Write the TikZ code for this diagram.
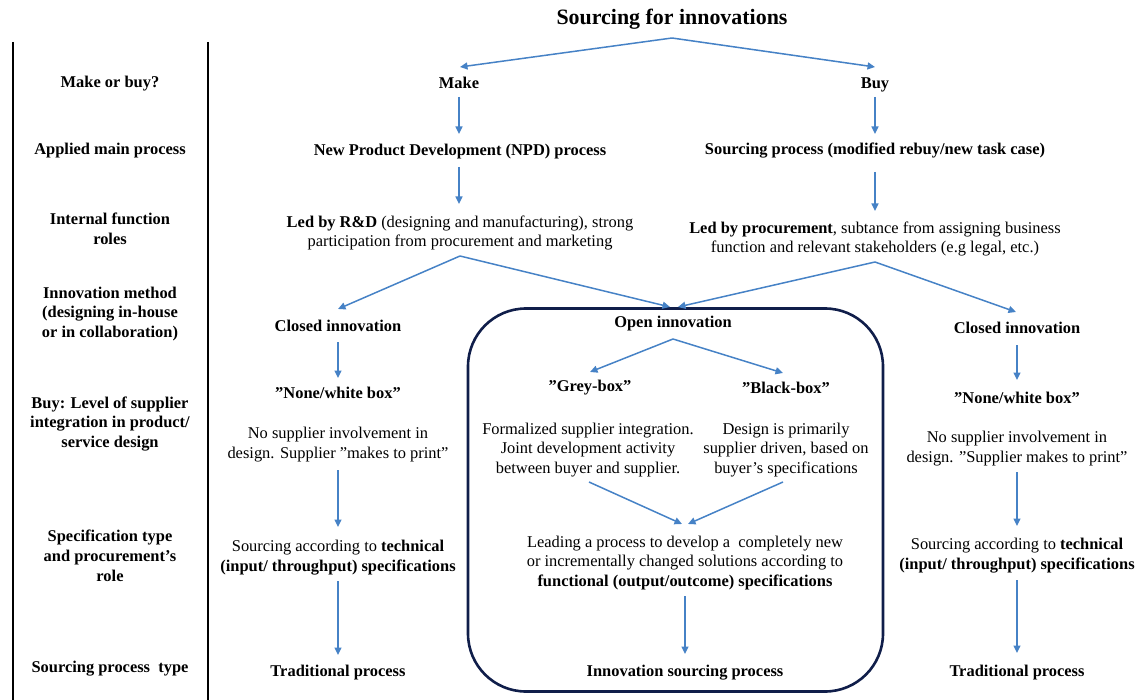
\documentclass[tikz,border=0pt]{standalone}
\usepackage{fontspec}
\setmainfont{Liberation Serif}
\usetikzlibrary{arrows.meta,calc}
\definecolor{flowblue}{RGB}{70,130,198}
\definecolor{framenavy}{RGB}{16,30,74}

\begin{document}
\begin{tikzpicture}[x=1bp,y=-1bp,
  every node/.style={inner sep=0pt, outer sep=0pt, align=center,
    font=\fontsize{16.5}{20}\selectfont},
  hd/.style={font=\fontsize{16.5}{20}\selectfont\bfseries},
  titlefont/.style={font=\fontsize{22}{26}\selectfont\bfseries},
  flow/.style={draw=flowblue, line width=1.5bp,
    -{Triangle[length=7.5bp,width=7bp]}},
  openframe/.style={draw=framenavy, line width=2.6bp, rounded corners=58bp,
    minimum width=415bp, minimum height=383bp},
  rule/.style={draw=black, line width=1.2bp}]

\useasboundingbox (0,0) rectangle (1147,700);

% row headings column
\draw[rule] (13,42) -- (13,700);
\draw[rule] (208,42) -- (208,700);
\node[hd] (h1) at (110,84)  {Make or buy?};
\node[hd] (h2) at (110,151) {Applied main process};
\node[hd] (h3) at (110,229) {Internal function\\roles};
\node[hd] (h4) at (110,314) {Innovation method\\(designing in-house\\or in collaboration)};
\node[hd] (h5) at (110,424) {Buy: Level of supplier\\integration in product/\\service design};
\node[hd] (h6) at (110,556) {Specification type\\and procurement’s\\role};
\node[hd] (h7) at (110,669) {Sourcing process\ \ type};

% open-innovation frame
\node[openframe] (frame) at (675.5,500) {};

% main flow
\node[titlefont] (title) at (672,19) {Sourcing for innovations};
\node[hd] (make) at (459,83) {Make};
\node[hd] (buy)  at (875,85) {Buy};
\node[hd] (npd)  at (460,152) {New Product Development (NPD) process};
\node[hd] (sp)   at (875,151) {Sourcing process (modified rebuy/new task case)};
\node (rnd)  at (460,233) {\textbf{Led by R\&D} (designing and manufacturing), strong\\participation from procurement and marketing};
\node (proc) at (875,239) {\textbf{Led by procurement}, subtance from assigning business\\function and relevant stakeholders (e.g legal, etc.)};

\node[hd] (closedL) at (338,326) {Closed innovation};
\node[hd] (open)    at (673,324) {Open innovation};
\node[hd] (closedR) at (1017,328) {Closed innovation};

\node[hd] (noneL) at (338,393)  {”None/white box”};
\node[hd] (grey)  at (590,388)  {”Grey-box”};
\node[hd] (black) at (786,388)  {”Black-box”};
\node[hd] (noneR) at (1017,398) {”None/white box”};

\node (descL) at (338,445) {No supplier involvement in\\design. Supplier "makes to print"};
\node (greyD) at (588,450) {Formalized supplier integration.\\Joint development activity\\between buyer and supplier.};
\node (blackD) at (786,450) {Design is primarily\\supplier driven, based on\\buyer’s specifications};
\node (descR) at (1017,449) {No supplier involvement in\\design. "Supplier makes to print"};

\node (specL) at (338,558) {Sourcing according to \textbf{technical}\\\textbf{(input/ throughput) specifications}};
\node (lead)  at (685,563) {Leading a process to develop a\ \ completely new\\or incrementally changed solutions according to\\\textbf{functional (output/outcome) specifications}};
\node (specR) at (1017,556) {Sourcing according to \textbf{technical}\\\textbf{(input/ throughput) specifications}};

\node[hd] (tradL) at (338,673)  {Traditional process};
\node[hd] (innov) at (685,673)  {Innovation sourcing process};
\node[hd] (tradR) at (1017,673) {Traditional process};

% split points
\coordinate (t1) at ($(title)+(0,19)$);
\coordinate (r1) at ($(rnd)+(0,23)$);
\coordinate (p1) at ($(proc)+(0,23)$);
\coordinate (o1) at ($(open)+(0,15)$);

% connectors
\draw[flow] (t1) -- ($(make)+(1,-16)$);
\draw[flow] (t1) -- ($(buy)+(0,-18)$);
\draw[flow] ($(make)+(0,14)$) -- ($(npd)+(-1,-18)$);
\draw[flow] ($(buy)+(0,12)$) -- ($(sp)+(0,-17)$);
\draw[flow] ($(npd)+(-1,15)$) -- ($(rnd)+(-1,-29)$);
\draw[flow] ($(sp)+(0,21)$) -- ($(proc)+(0,-28)$);

\draw[flow] (r1) -- ($(closedL)+(0,-17)$);
\draw[flow] (r1) -- ($(open)+(-3,-17)$);
\draw[flow] (p1) -- ($(open)+(5,-17)$);
\draw[flow] (p1) -- ($(closedR)+(-1,-16)$);

\draw[flow] ($(closedL)+(0,16)$) -- ($(noneL)+(0,-15)$);
\draw[flow] ($(descL)+(0,25)$) -- ($(specL)+(0,-31)$);
\draw[flow] ($(specL)+(0,23)$) -- ($(tradL)+(0,-18)$);

\draw[flow] ($(closedR)+(0,17)$) -- ($(noneR)+(0,-18)$);
\draw[flow] ($(descR)+(0,23)$) -- ($(specR)+(0,-30)$);
\draw[flow] ($(specR)+(0,24)$) -- ($(tradR)+(0,-20)$);

\draw[flow] (o1) -- ($(grey)+(0,-16)$);
\draw[flow] (o1) -- ($(black)+(-3,-15)$);
\draw[flow] ($(greyD)+(1,32)$) -- ($(lead)+(-3,-39)$);
\draw[flow] ($(blackD)+(-3,32)$) -- ($(lead)+(3,-39)$);
\draw[flow] ($(lead)+(0,33)$) -- ($(innov)+(0,-19)$);
\end{tikzpicture}
\end{document}
